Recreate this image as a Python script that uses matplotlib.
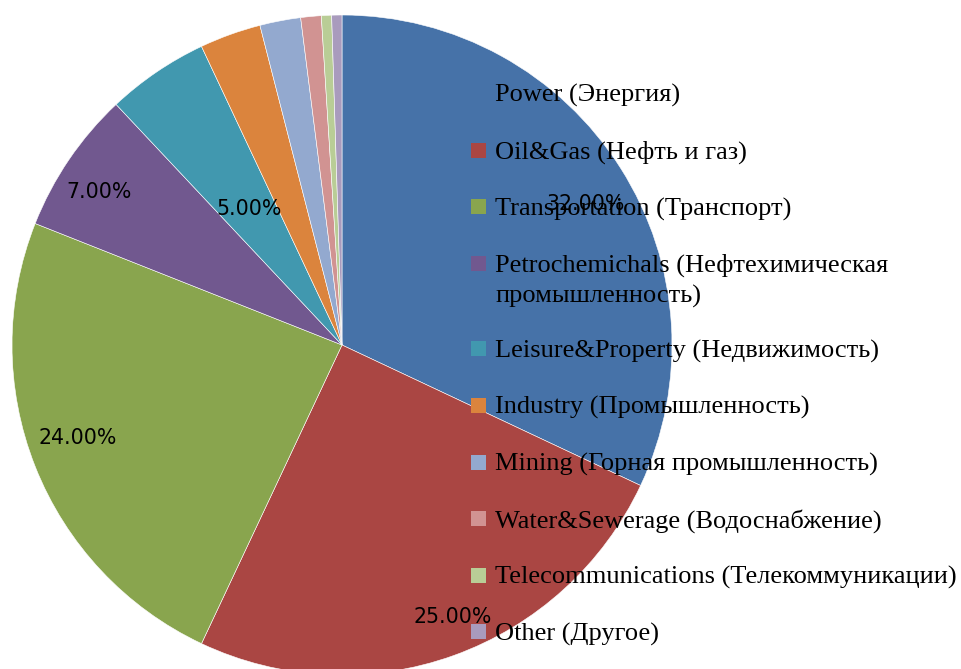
import matplotlib
matplotlib.use("Agg")
import matplotlib.pyplot as plt
from matplotlib.patches import Rectangle
import numpy as np

categories = [
    "Power (Энергия)",
    "Oil&Gas (Нефть и газ)",
    "Transportation (Транспорт)",
    "Petrochemichals (Нефтехимическая\nпромышленность)",
    "Leisure&Property (Недвижимость)",
    "Industry (Промышленность)",
    "Mining (Горная промышленность)",
    "Water&Sewerage (Водоснабжение)",
    "Telecommunications (Телекоммуникации)",
    "Other (Другое)",
]
shares = [32.0, 25.0, 24.0, 7.0, 5.0, 3.0, 2.0, 1.0, 0.5, 0.5]
colors = ["#4672A8", "#AA4643", "#89A54E", "#71588F", "#4198AF",
          "#DB843D", "#93A9CF", "#D19392", "#B9CD96", "#A99BBD"]
# percentage label placement: (relative radius, angle offset in degrees); None = no label
label_pos = [(0.854, -2.4), (0.888, 2.3), (0.848, -2.2), (0.870, 2.0), (0.50, 0.0),
             None, None, None, None, None]

W, H, DPI = 962, 669, 100
fig = plt.figure(figsize=(W / DPI, H / DPI), dpi=DPI)
cx, cy, r = 342, 345, 330
ax = fig.add_axes([(cx - r) / W, (H - cy - r) / H, 2 * r / W, 2 * r / H])
wedges, _ = ax.pie(shares, colors=colors, startangle=90, counterclock=False,
                   radius=1, wedgeprops=dict(edgecolor="white", linewidth=0.4))
ax.set_xlim(-1, 1)
ax.set_ylim(-1, 1)
ax.set_aspect("equal")
ax.axis("off")

for w, v, p in zip(wedges, shares, label_pos):
    if p is None:
        continue
    d, off = p
    ang = np.deg2rad((w.theta1 + w.theta2) / 2 + off)
    ax.text(d * np.cos(ang), d * np.sin(ang), f"{v:.2f}%",
            ha="center", va="center", fontsize=14.8,
            family="DejaVu Sans", color="black")

# legend (drawn manually, overlaid on the pie)
for i, (lab, col) in enumerate(zip(categories, colors)):
    base = 102 + 56.6 * i + (29 if i > 3 else 0)
    for k, line in enumerate(lab.split("\n")):
        fig.text(495 / W, 1 - (base + 30.5 * k) / H, line, ha="left", va="baseline",
                 fontsize=19, family="Liberation Serif", color="black")
    fig.patches.append(Rectangle((471 / W, 1 - (base - 1) / H), 15 / W, 15 / H,
                                 transform=fig.transFigure, facecolor=col,
                                 edgecolor="none"))

fig.savefig("out.png", dpi=DPI)
